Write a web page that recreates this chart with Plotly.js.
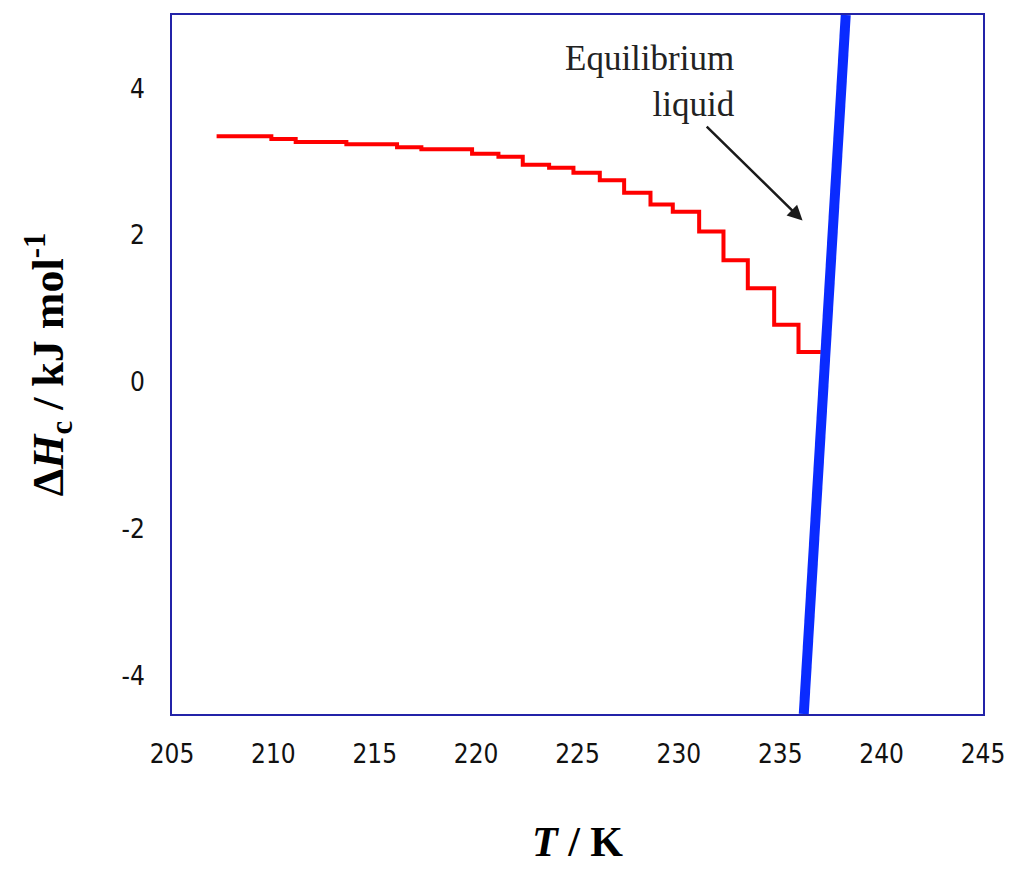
<!DOCTYPE html>
<html>
<head>
<meta charset="utf-8">
<script src="https://cdn.plot.ly/plotly-3.0.1.min.js"></script>
<style>html,body{margin:0;padding:0;background:#fff;}#chart{width:1016px;height:869px;}</style>
</head>
<body>
<div id="chart"></div>
<script>
// Step curve of crystallization enthalpy (left edge of each step, K) and level (kJ/mol)
const stepT = [207.2, 209.9, 211.1, 213.6, 216.1, 217.3, 219.8, 221.1, 222.3, 223.6, 224.8, 226.1, 227.3, 228.6, 229.7, 231.0, 232.2, 233.4, 234.7, 235.9, 237.0];
const stepH = [3.35, 3.31, 3.27, 3.24, 3.20, 3.17, 3.11, 3.07, 2.96, 2.92, 2.85, 2.75, 2.58, 2.42, 2.32, 2.05, 1.66, 1.28, 0.78, 0.41, 0.41];
// Equilibrium liquid line
const liqT = [236.16, 238.23];
const liqH = [-4.52, 5.0];
// Axis ticks
const xTicks = [205, 210, 215, 220, 225, 230, 235, 240, 245];
const xTickText = ['205', '210', '215', '220', '225', '230', '235', '240', '245'];
const yTicks = [-4, -2, 0, 2, 4];
const yTickText = ['-4', '-2', '0', '2', '4'];
// Arrow annotation (tail, head)
const arrowTail = [231.3, 3.5];
const arrowHead = [236.1, 2.2];
const labelPos = [232.85, 4.1];

const traces = [
  {x: stepT, y: stepH, mode: 'lines', line: {shape: 'hv', color: '#ff0000', width: 4}, hoverinfo: 'skip'},
  {x: liqT, y: liqH, mode: 'lines', line: {color: '#0a2bff', width: 10}, hoverinfo: 'skip'}
];

const axisCommon = {showgrid: false, zeroline: false, showline: true, mirror: true, linecolor: '#2323a8', linewidth: 2, ticks: '',
  tickfont: {family: '"DejaVu Sans Condensed", "Liberation Sans Narrow", "Liberation Sans", Arial, sans-serif', size: 26, color: '#111'}};

const layout = {
  width: 1016, height: 869,
  margin: {l: 172, r: 33, t: 15, b: 155},
  paper_bgcolor: '#fff', plot_bgcolor: '#fff',
  showlegend: false,
  xaxis: Object.assign({}, axisCommon, {range: [205, 245], tickvals: xTicks, ticktext: xTickText, ticklabelstandoff: 16,
    title: {text: '<b><i>T</i> / K</b>', font: {family: '"Liberation Serif", "Times New Roman", serif', size: 42, color: '#000'}, standoff: 58}}),
  yaxis: Object.assign({}, axisCommon, {range: [-4.52, 5.0], tickvals: yTicks, ticktext: yTickText, ticklabelstandoff: 20,
    title: {text: '<b>Δ<i>H</i><sub>c</sub> / kJ mol<sup>-1</sup></b>', font: {family: '"Liberation Serif", "Times New Roman", serif', size: 44, color: '#000'}, standoff: 44}}),
  annotations: [
    {x: arrowHead[0], y: arrowHead[1], ax: arrowTail[0], ay: arrowTail[1], xref: 'x', yref: 'y', axref: 'x', ayref: 'y',
     text: '', showarrow: true, arrowhead: 2, arrowsize: 1.2, arrowwidth: 2.5, arrowcolor: '#1a1a1a'},
    {x: labelPos[0], y: labelPos[1], xref: 'x', yref: 'y', text: 'Equilibrium<br>liquid', showarrow: false, align: 'right',
     xanchor: 'right', yanchor: 'middle', font: {family: '"Liberation Serif", "Times New Roman", serif', size: 35, color: '#222'}}
  ]
};

Plotly.newPlot('chart', traces, layout, {displayModeBar: false, staticPlot: true});
</script>
</body>
</html>
